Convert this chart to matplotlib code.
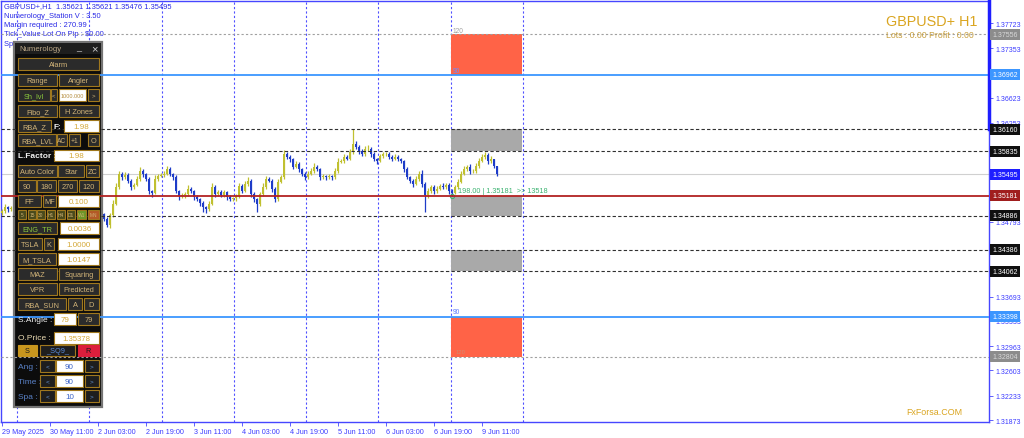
#!/usr/bin/env python3
"""
GBPUSD+ H1 chart with the Numerology panel, redrawn with matplotlib.
Saves out.png (1024x439).
"""
import matplotlib
matplotlib.use("Agg")
import matplotlib.pyplot as plt
from matplotlib import transforms
from matplotlib.patches import Rectangle

plt.rcParams['font.family'] = ['Liberation Sans', 'DejaVu Sans']

# ---- data -------------------------------------------------------------------
first_open = 1.3493
closes = [
    1.3495, 1.3501, 1.3498, 1.3500,
    1.3502, 1.3510, 1.3505, 1.3515, 1.3522, 1.3518, 1.3525, 1.3530, 1.3521, 1.3512,
    1.3508, 1.3515, 1.3520, 1.3514, 1.3506, 1.3498, 1.3502, 1.3495, 1.3488, 1.3492,
    1.3500, 1.3507, 1.3503, 1.3496, 1.3490, 1.3494, 1.3499, 1.3493, 1.3488, 1.3491,
    1.3484, 1.3475, 1.3489, 1.3506, 1.3531, 1.3550, 1.3545, 1.3548, 1.3540, 1.3531,
    1.3534, 1.3543, 1.3554, 1.3550, 1.3543, 1.3525, 1.3522, 1.3543, 1.3547, 1.3548,
    1.3550, 1.3557, 1.3550, 1.3545, 1.3525, 1.3517, 1.3519, 1.3520, 1.3528, 1.3525,
    1.3516, 1.3513, 1.3507, 1.3501, 1.3498, 1.3506, 1.3531, 1.3520, 1.3523, 1.3519,
    1.3523, 1.3516, 1.3513, 1.3514, 1.3517, 1.3532, 1.3525, 1.3535, 1.3540, 1.3520,
    1.3513, 1.3506, 1.3520, 1.3531, 1.3543, 1.3540, 1.3528, 1.3513, 1.3538, 1.3545,
    1.3579, 1.3575, 1.3572, 1.3560, 1.3565, 1.3557, 1.3550, 1.3545, 1.3550, 1.3554,
    1.3560, 1.3557, 1.3545, 1.3547, 1.3545, 1.3547, 1.3545, 1.3554, 1.3568, 1.3569,
    1.3575, 1.3572, 1.3582, 1.3594, 1.3590, 1.3584, 1.3579, 1.3587, 1.3587, 1.3579,
    1.3572, 1.3569, 1.3576, 1.3579, 1.3579, 1.3575, 1.3572, 1.3575, 1.3572, 1.3569,
    1.3557, 1.3545, 1.3540, 1.3535, 1.3543, 1.3550, 1.3535, 1.3519, 1.3525, 1.3531,
    1.3525, 1.3528, 1.3532, 1.3531, 1.3534, 1.3525, 1.3522, 1.3531, 1.3538, 1.3550,
    1.3557, 1.3560, 1.3554, 1.3554, 1.3562, 1.3569, 1.3575, 1.3578, 1.3569, 1.3572,
    1.35621, 1.35495,
]
# wick lengths beyond the body, in pips
wick_up = [
    3, 4, 2, 3,
    3, 4, 3, 5, 3, 4, 3, 4, 3, 2, 3, 4, 3, 2, 3, 4, 3, 2, 3, 4,
    3, 2, 3, 4, 3, 2, 3, 4, 3, 2,
    2, 3, 4, 5, 6, 4, 3, 5, 3, 2,
    3, 4, 6, 3, 2, 3, 2, 5, 3, 4,
    4, 5, 3, 2, 3, 2, 3, 4, 5, 3,
    2, 3, 2, 3, 2, 4, 5, 3, 4, 3,
    3, 2, 3, 2, 4, 5, 3, 4, 6, 2,
    3, 2, 4, 5, 4, 3, 2, 3, 4, 3,
    6, 4, 3, 2, 4, 3, 2, 3, 4, 5,
    6, 3, 2, 3, 2, 3, 2, 4, 5, 3,
    4, 3, 5, 22, 4, 3, 3, 4, 5, 2,
    3, 2, 4, 3, 4, 3, 3, 4, 3, 2,
    2, 3, 2, 3, 4, 5, 6, 3, 4, 3,
    3, 4, 3, 4, 3, 2, 3, 3, 4, 5,
    4, 3, 4, 3, 4, 5, 4, 5, 3, 4,
    0, 0,
]
wick_dn = [
    3, 2, 4, 3,
    3, 2, 4, 3, 2, 3, 4, 3, 2, 3, 4, 3, 2, 3, 4, 3, 2, 3, 4, 3,
    2, 3, 4, 3, 2, 3, 4, 3, 2, 3,
    4, 3, 4, 3, 2, 3, 4, 3, 4, 5,
    3, 2, 3, 4, 3, 5, 6, 2, 3, 2,
    3, 2, 3, 4, 3, 5, 3, 4, 2, 3,
    4, 3, 5, 7, 6, 3, 2, 4, 3, 3,
    3, 4, 3, 3, 4, 2, 3, 2, 3, 4,
    5, 12, 3, 2, 3, 2, 4, 5, 3, 2,
    2, 3, 4, 3, 2, 4, 3, 4, 3, 2,
    3, 2, 4, 3, 4, 3, 4, 2, 3, 2,
    3, 2, 2, 3, 3, 4, 3, 2, 3, 4,
    3, 4, 2, 3, 2, 3, 3, 2, 3, 3,
    4, 3, 4, 5, 2, 3, 5, 25, 4, 3,
    4, 3, 2, 3, 3, 4, 5, 2, 3, 2,
    2, 3, 4, 3, 2, 3, 2, 3, 4, 3,
    3, 2,
]

time_ticks = [0, 16, 32, 48, 64, 80, 96, 112, 128, 144, 160]
time_labels = ['29 May 2025', '30 May 11:00', '2 Jun 03:00', '2 Jun 19:00',
               '3 Jun 11:00', '4 Jun 03:00', '4 Jun 19:00', '5 Jun 11:00',
               '6 Jun 03:00', '6 Jun 19:00', '9 Jun 11:00']
price_ticks = [1.37723, 1.37353, 1.36623, 1.36253, 1.34793,
               1.33693, 1.33333, 1.32963, 1.32603, 1.32233, 1.31873]
separators = [5, 29, 53.3, 77.3, 101.3, 125.3, 149.7, 173.7]

# price levels drawn as horizontal lines
level_dotted = [1.37556, 1.32804]
level_blue = [1.36962, 1.33398]
level_dashed = [1.36160, 1.35835, 1.34886, 1.34386, 1.34062]
bid_price = 1.35495
red_level = 1.35181

# zones (low, high) between the levels
zones_orange = [(1.36962, 1.37556), (1.32804, 1.33398)]
zones_gray = [(1.35835, 1.36160), (1.34886, 1.35181), (1.34062, 1.34386)]
zone_x = (149.7, 173.3)

# highlighted labels on the price scale: (price, background, text colour)
price_boxes = [
    (1.37556, '#8c8c8c', '#d8d8d8'),
    (1.36962, '#3c96ff', 'white'),
    (1.36160, '#101010', 'white'),
    (1.35835, '#101010', 'white'),
    (1.35495, '#1e1eff', 'white'),
    (1.35181, '#a01e1e', 'white'),
    (1.34886, '#101010', 'white'),
    (1.34386, '#101010', 'white'),
    (1.34062, '#101010', 'white'),
    (1.33398, '#3c96ff', 'white'),
    (1.32804, '#8c8c8c', '#d8d8d8'),
]

info_lines = ['GBPUSD+,H1  1.35621 1.35621 1.35476 1.35495',
              'Numerology_Station V : 3.50',
              'Margin required : 270.99',
              'Tick_Value Lot On Pip : $0.00',
              'Spread : 0  Pips']

# ---- figure -------------------------------------------------------------------
W, H = 1024, 439
fig = plt.figure(figsize=(W / 100, H / 100), dpi=100)
fig.patch.set_facecolor('white')
ax = fig.add_axes([1 / W, 16 / H, 988 / W, 421 / H])
ax.set_xlim(-1 / 3, 329)
ax.set_ylim(1.31844, 1.38048)

# pixel coordinates measured from the top-left of the image
P = transforms.Affine2D().scale(1 / W, -1 / H).translate(0, 1) + fig.transFigure

AXIS_BLUE = '#4646ff'
for sp in ax.spines.values():
    sp.set_color(AXIS_BLUE)
    sp.set_linewidth(1.0)
ax.plot([989, 989], [2, 130], transform=P, color='#1e1eff', lw=2.5,
        clip_on=False, zorder=10)

ax.yaxis.tick_right()
ax.set_yticks(price_ticks)
ax.set_yticklabels([f'{p:.5f}' for p in price_ticks])
ax.tick_params(axis='y', direction='out', length=3, width=0.6, pad=1.5,
               color=AXIS_BLUE, labelcolor='#3c3cff', labelsize=5)
ax.set_xticks(time_ticks)
ax.set_xticklabels(time_labels, ha='left')
ax.tick_params(axis='x', direction='out', length=3, width=0.6, pad=1.5,
               color=AXIS_BLUE, labelcolor='#3c3cff', labelsize=5.2)

# separators
for s in separators:
    ax.axvline(s, color='#5050ff', lw=0.8, ls=(0, (2, 2)), zorder=1)

# zones
for lo, hi in zones_orange:
    ax.add_patch(Rectangle((zone_x[0], lo), zone_x[1] - zone_x[0], hi - lo,
                           fc='#ff6347', ec='none', zorder=1.2))
for lo, hi in zones_gray:
    ax.add_patch(Rectangle((zone_x[0], lo), zone_x[1] - zone_x[0], hi - lo,
                           fc='#a9a9a9', ec='none', zorder=1.2))

ax.axhline(bid_price, color='#d0d0d0', lw=0.8, zorder=1.5)

# candles
opens = [first_open] + closes[:-1]
pip = 0.0001
for i, (o, c) in enumerate(zip(opens, closes)):
    up = c >= o
    col = '#c0c030' if up else '#1e3cc8'
    top, bot = max(o, c), min(o, c)
    ax.vlines(i, bot - wick_dn[i] * pip, top + wick_up[i] * pip,
              color=col, lw=0.9, zorder=3)
    ax.bar(i, max(top - bot, 0.00003), bottom=bot, width=0.8, color=col,
           edgecolor='none', zorder=3.1)

# top-left info (under the panel)
for k, line in enumerate(info_lines):
    ax.text(4, 7 + 9.3 * k, line, transform=P, color='#2828e6', fontsize=5.4,
            ha='left', va='center', zorder=3.5, clip_on=False)


# ---- Numerology panel ---------------------------------------------------------
GOLD = '#a0781e'
TAN = '#d2b478'
BTN = '#2b2b2b'
INPUT_TXT = '#d4a838'
FS = 5.3


def rect(x0, y0, x1, y1, fc, ec='none', lw=0.8, z=6):
    ax.add_patch(Rectangle((x0, y0), x1 - x0, y1 - y0, transform=P, fc=fc,
                           ec=ec, lw=lw, zorder=z, clip_on=False))


def txt(x, y, s, color, size=FS, ha='center', weight='normal', z=7):
    ax.text(x, y, s, transform=P, color=color, fontsize=size, ha=ha,
            va='center', fontweight=weight, zorder=z, clip_on=False)


def btn(x0, y0, x1, y1, s, fc=BTN, ec=GOLD, tc=TAN, size=FS):
    rect(x0, y0, x1, y1, fc, ec)
    txt((x0 + x1) / 2, (y0 + y1) / 2 + 0.3, s, tc, size)


def field(x0, y0, x1, y1, s, tc=INPUT_TXT, size=FS):
    rect(x0, y0, x1, y1, 'white', GOLD)
    txt((x0 + x1) / 2, (y0 + y1) / 2 + 0.3, s, tc, size)


rect(14, 43, 102, 408, '#0c0c0c', '#747474', lw=1.6, z=4)
rect(15, 44, 101, 55, '#1e1e1e', z=4.2)
txt(19, 49.5, 'Numerology', '#bca888', 5.6, ha='left')
txt(79, 48, '_', '#d0d0d0', 6.5)
txt(94, 49.5, '×', '#d0d0d0', 8)

btn(18, 59, 99, 71, 'Alarm')
btn(18, 75, 57, 87, 'Range')
btn(59, 75, 99, 87, 'Angler')
btn(18, 90, 50, 102, 'Sh_lvl', tc='#8cc83c')
btn(51, 90, 57, 102, '<', size=4.4)
field(59, 90, 86, 102, '1000.000', tc='#b48c3c', size=4.0)
btn(88, 90, 99, 102, '>', size=4.4)
btn(18, 106, 57, 118, 'Fibo_Z')
btn(59, 106, 99, 118, 'H Zones')
btn(18, 121, 51, 133, 'RBA_Z')
txt(57, 127.5, 'F:', '#f0f0f0', 6, weight='bold')
field(64, 121, 99, 133, '1.98', size=5.8)
btn(18, 135, 56, 147, 'RBA_LVL')
btn(57, 135, 67, 147, 'AC', size=4.8)
btn(69, 135, 80, 147, '+1', size=4.8)
btn(88, 135, 99, 147, 'O')
txt(18, 157, 'L.Factor :', '#f0f0f0', 6, ha='left', weight='bold')
field(54, 151, 99, 162, '1.98', size=5.8)
btn(18, 166, 57, 178, 'Auto Color')
btn(58, 166, 84, 178, 'Star')
btn(86, 166, 99, 178, 'ZC')
btn(18, 181, 36, 193, '90')
btn(37, 181, 56, 193, '180')
btn(58, 181, 77, 193, '270')
btn(79, 181, 99, 193, '120')
btn(18, 196, 41, 208, 'FF', size=5.8)
btn(43, 196, 56, 208, 'MF')
field(58, 196, 99, 208, '0.100', size=5.8)
tf_labels = ['5', '15', '30', 'H1', 'H4', 'D1', 'W1', 'MN']
tf_x = [(18, 26), (28, 36), (37, 45), (47, 55), (57, 65), (67, 75), (77, 86), (88, 99)]
for (x0, x1), lab in zip(tf_x, tf_labels):
    fc = '#4a4a1c'
    if lab == 'W1':
        fc = '#6e9628'
    elif lab == 'MN':
        fc = '#b45a28'
    btn(x0, 211, x1, 220, lab, fc=fc, size=3.5)
btn(18, 223, 57, 235, 'ENG_TR', tc='#8cc83c')
field(60, 223, 99, 235, '0.0036', size=5.8)
btn(18, 239, 42, 251, 'TSLA')
btn(44, 239, 54, 251, 'K')
field(58, 239, 99, 251, '1.0000', size=5.8)
btn(18, 254, 56, 266, 'M_TSLA')
field(58, 254, 99, 266, '1.0147', size=5.8)
btn(18, 269, 57, 281, 'MAZ')
btn(59, 269, 99, 281, 'Squaring')
btn(18, 284, 57, 296, 'VPR')
btn(59, 284, 99, 296, 'Predicted')
btn(18, 299, 66, 311, 'RBA_SUN')
btn(68, 299, 82, 311, 'A')
btn(84, 299, 99, 311, 'D')
txt(18, 320.5, 'S.Angle :', '#f0f0f0', 6, ha='left')
field(54, 314, 76, 326, '79', size=5.8)
btn(78, 314, 99, 326, '79')
txt(18, 339, 'O.Price :', '#ecdcb4', 6, ha='left')
field(54, 333, 99, 345, '1.35378', size=5.6)
btn(18, 346, 37, 357, 'S', fc='#c8961e', ec='#c8961e', tc='#1a1a1a')
btn(40, 346, 75, 357, '_SQ9_', fc='#1e1e1e', tc='#5a8cdc')
btn(78, 346, 99, 357, 'R', fc='#dc1e3c', ec='#dc1e3c', tc='#1a1a1a')
for k, (lab, val) in enumerate([('Ang :', '90'), ('Time :', '90'), ('Spa :', '10')]):
    y0 = 361 + 15 * k
    txt(18, y0 + 6.5, lab, '#5a82c8', 6, ha='left')
    btn(40, y0, 55, y0 + 12, '<', fc='#1e1e1e', tc='#6496dc', size=4.6)
    field(56, y0, 83, y0 + 12, val, tc='#3c64c8', size=5.8)
    btn(85, y0, 99, y0 + 12, '>', fc='#1e1e1e', tc='#6496dc', size=4.6)

# ---- levels (drawn over the panel) ------------------------------------------------
for p in level_dotted:
    ax.axhline(p, color='#a0a0a0', lw=0.8, ls=(0, (2, 2)), zorder=5)
for p in level_blue:
    ax.axhline(p, color='#3c96ff', lw=1.3, zorder=5)
for p in level_dashed:
    ax.axhline(p, color='#303030', lw=0.8, ls=(0, (3, 2)), zorder=5)
ax.axhline(red_level, color='#b22222', lw=1.3, zorder=5)

# zone captions
ax.text(150.3, 1.3762, '120', color='#a0a0a0', fontsize=4.8, va='center', zorder=4)
ax.text(150.3, 1.3703, '90', color='#6e8cff', fontsize=4.8, va='center', zorder=4)
ax.text(150.3, 1.3347, '90', color='#5a78ff', fontsize=4.8, va='center', zorder=4)
ax.text(151.3, 1.3289, '120', color='#d08a70', fontsize=4.2, va='center', zorder=4)
ax.text(152, 1.35262, '198.00 | 1.35181  >> 13518', color='#3cb371',
        fontsize=5.2, va='center', zorder=4)
ax.plot(150, 1.35172, 'o', ms=3, mfc='none', mec='#3cb371', mew=0.8, zorder=4)

# highlighted price labels
for p, bg, tc in price_boxes:
    ax.text(1.0035, p, f'{p:.5f}', transform=ax.get_yaxis_transform(),
            color=tc, fontsize=5, ha='left', va='center', clip_on=False,
            zorder=11, bbox=dict(boxstyle='square,pad=0.3', fc=bg, ec='none'))

# right side captions
txt(977, 22, 'GBPUSD+ H1', '#daa520', 10.4, ha='right', z=8)
txt(974, 36, 'Lots : 0.00 Profit : 0.00', '#c8a040', 6.3, ha='right', z=8)
txt(962, 413, 'FxForsa.COM', '#daa520', 6.4, ha='right', z=8)

fig.savefig('out.png', dpi=100)
